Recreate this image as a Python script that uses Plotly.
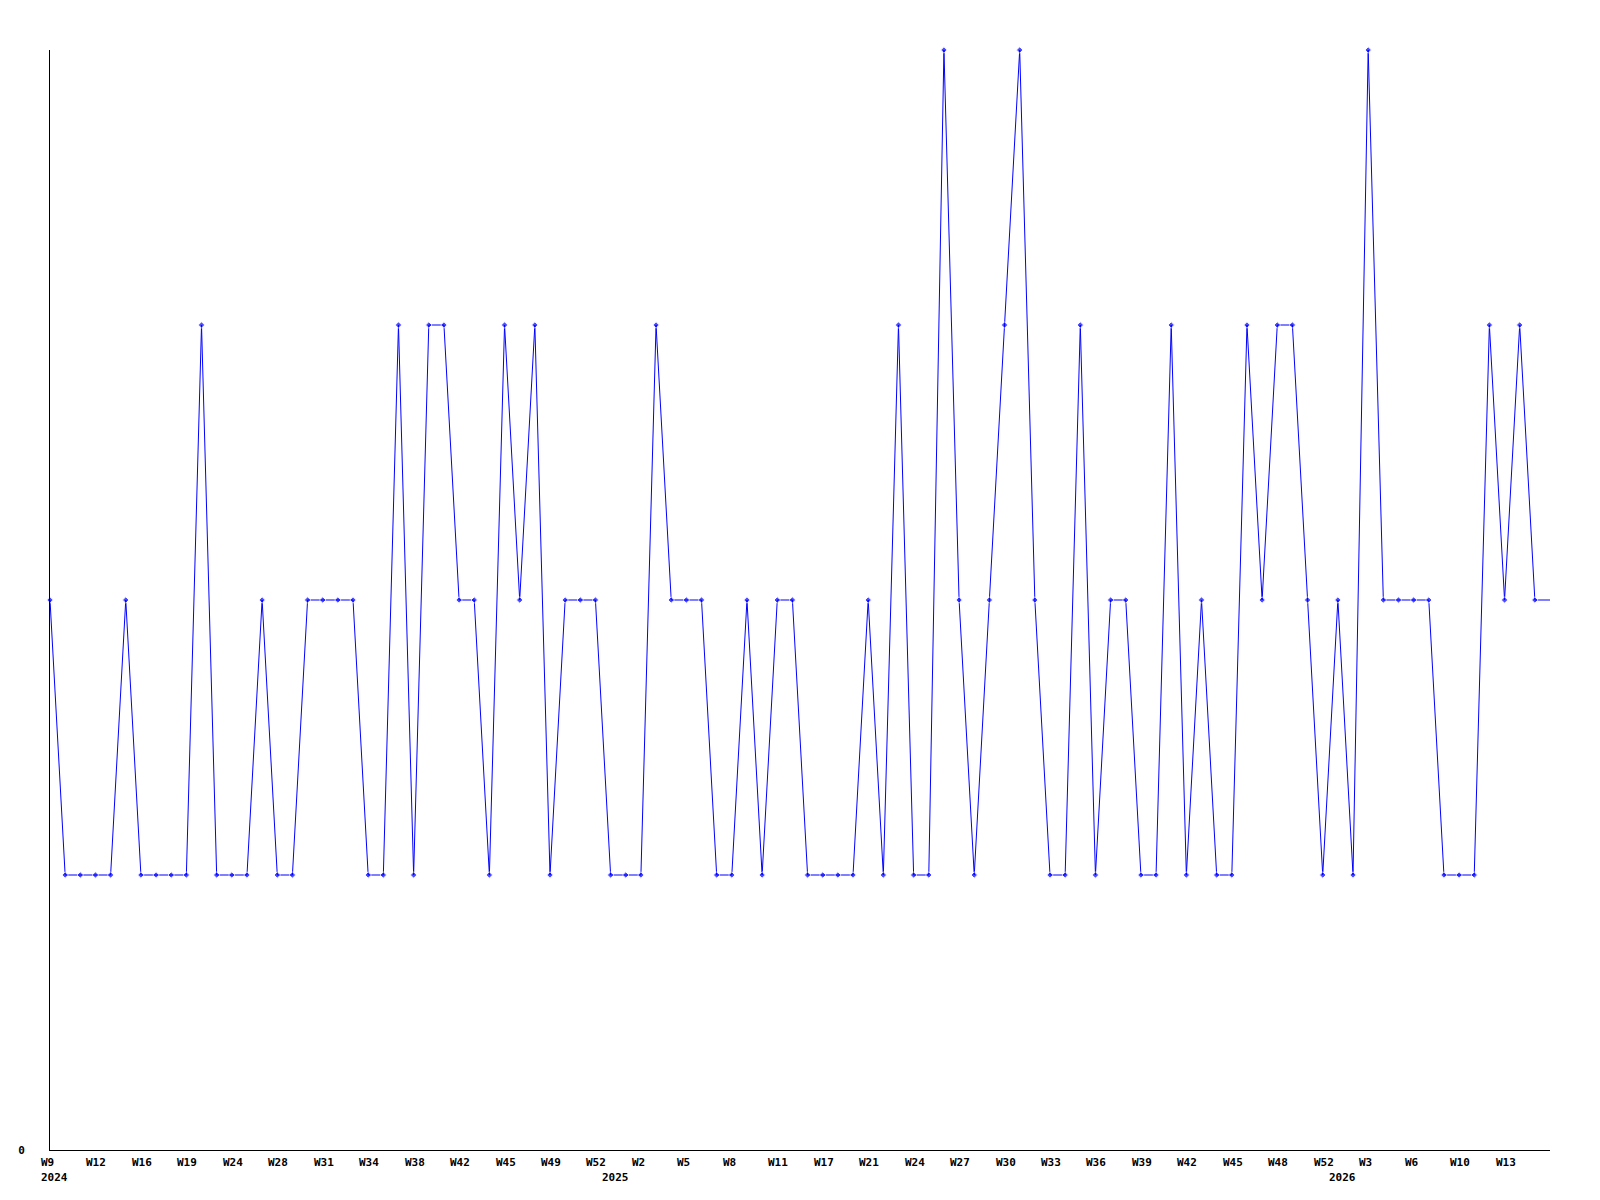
import plotly.graph_objects as go

# Weekly series values (one point per week shown)
values = [2, 1, 1, 1, 1, 2, 1, 1, 1, 1,
          3, 1, 1, 1, 2, 1, 1, 2, 2, 2,
          2, 1, 1, 3, 1, 3, 3, 2, 2, 1,
          3, 2, 3, 1, 2, 2, 2, 1, 1, 1,
          3, 2, 2, 2, 1, 1, 2, 1, 2, 2,
          1, 1, 1, 1, 2, 1, 3, 1, 1, 4,
          2, 1, 2, 3, 4, 2, 1, 1, 3, 1,
          2, 2, 1, 1, 3, 1, 2, 1, 1, 3,
          2, 3, 3, 2, 1, 2, 1, 4, 2, 2,
          2, 2, 1, 1, 1, 3, 2, 3, 2, 2]

# Week tick labels (one on every third point, starting with the first)
tick_labels = ["W9", "W12", "W16", "W19", "W24", "W28", "W31", "W34", "W38", "W42", "W45",
               "W49", "W52", "W2", "W5", "W8", "W11", "W17", "W21", "W24", "W27", "W30", "W33",
               "W36", "W39", "W42", "W45", "W48", "W52", "W3", "W6", "W10", "W13"]
tick_step = 3

# Year labels and the point index where each year starts
year_labels = ["2024", "2025", "2026"]
year_start_index = [0, 37, 85]

x = list(range(len(values)))
marker_sizes = [5] * (len(values) - 1) + [0]

font_family = "DejaVu Sans Mono"
lab_font = dict(family=font_family, size=11, color="black", weight="bold")

fig = go.Figure()
fig.add_trace(go.Scatter(
    x=x, y=values, mode="lines+markers",
    line=dict(color="#0000FF", width=1),
    marker=dict(symbol="diamond", size=marker_sizes, color="#0000FF"),
    cliponaxis=False,
    showlegend=False,
))

# Week labels: left-aligned text starting slightly left of the labelled point
for k, lbl in enumerate(tick_labels):
    fig.add_annotation(x=x[k * tick_step], y=0, xref="x", yref="paper", text=lbl,
                       xshift=-11, yshift=-12, showarrow=False,
                       xanchor="left", yanchor="middle", font=lab_font)

# Year labels on a second row
for lbl, idx in zip(year_labels, year_start_index):
    fig.add_annotation(x=x[idx], y=0, xref="x", yref="paper", text=lbl,
                       xshift=-11, yshift=-27, showarrow=False,
                       xanchor="left", yanchor="middle", font=lab_font)

fig.update_layout(
    width=1600, height=1200,
    # page body adds an 8px offset; compensate so the plot area sits at 50..1550 / 50..1150
    margin=dict(l=42, r=58, t=42, b=58),
    plot_bgcolor="white", paper_bgcolor="white",
    xaxis=dict(range=[0, len(values) - 1], showgrid=False, zeroline=False,
               showline=True, linecolor="black", linewidth=1, automargin=False,
               showticklabels=False, ticks=""),
    yaxis=dict(range=[0, 4], showgrid=False, zeroline=False,
               showline=True, linecolor="black", linewidth=1, automargin=False,
               tickmode="array", tickvals=[0], ticktext=["0"], ticks="",
               ticklabelstandoff=22, tickfont=lab_font),
)

fig.write_html("out.html")
